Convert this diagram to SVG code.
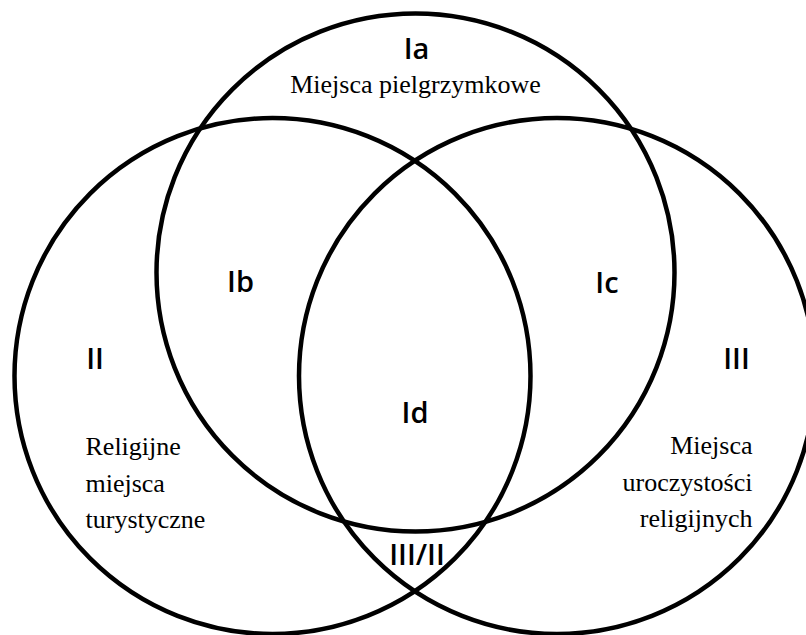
<svg xmlns="http://www.w3.org/2000/svg" width="806" height="635" viewBox="0 0 806 635">
<style>
.ring{fill:none;stroke:#000;stroke-width:4.5}
.lbl{font-family:"Open Sans","Liberation Sans",sans-serif;font-size:29px;font-weight:600;fill:#000;text-anchor:middle}
.desc{font-family:"Liberation Serif","Times New Roman",serif;font-size:26px;fill:#000}
</style>
<rect width="806" height="635" fill="#fff"/>
<g id="set-pilgrimage">
<circle class="ring" cx="415.5" cy="272.5" r="259"/>
<text class="lbl" x="416.5" y="59">Ia</text>
<text class="desc" x="415.5" y="93" text-anchor="middle">Miejsca pielgrzymkowe</text>
</g>
<g id="set-tourist">
<circle class="ring" cx="272.5" cy="376" r="258"/>
<text class="lbl" x="95" y="369">II</text>
<text class="desc" x="85.5" y="455">Religijne</text>
<text class="desc" x="85.5" y="492">miejsca</text>
<text class="desc" x="85.5" y="528">turystyczne</text>
</g>
<g id="set-celebration">
<circle class="ring" cx="557" cy="376" r="258"/>
<text class="lbl" x="736.5" y="369">III</text>
<text class="desc" x="752.5" y="454" text-anchor="end">Miejsca</text>
<text class="desc" x="752.5" y="491" text-anchor="end">uroczystości</text>
<text class="desc" x="752.5" y="527" text-anchor="end">religijnych</text>
</g>
<g id="region-Ib"><text class="lbl" x="240.5" y="292">Ib</text></g>
<g id="region-Ic"><text class="lbl" x="607" y="293">Ic</text></g>
<g id="region-Id"><text class="lbl" x="415" y="423">Id</text></g>
<g id="region-III-II"><text class="lbl" x="417" y="565">III/II</text></g>
</svg>
